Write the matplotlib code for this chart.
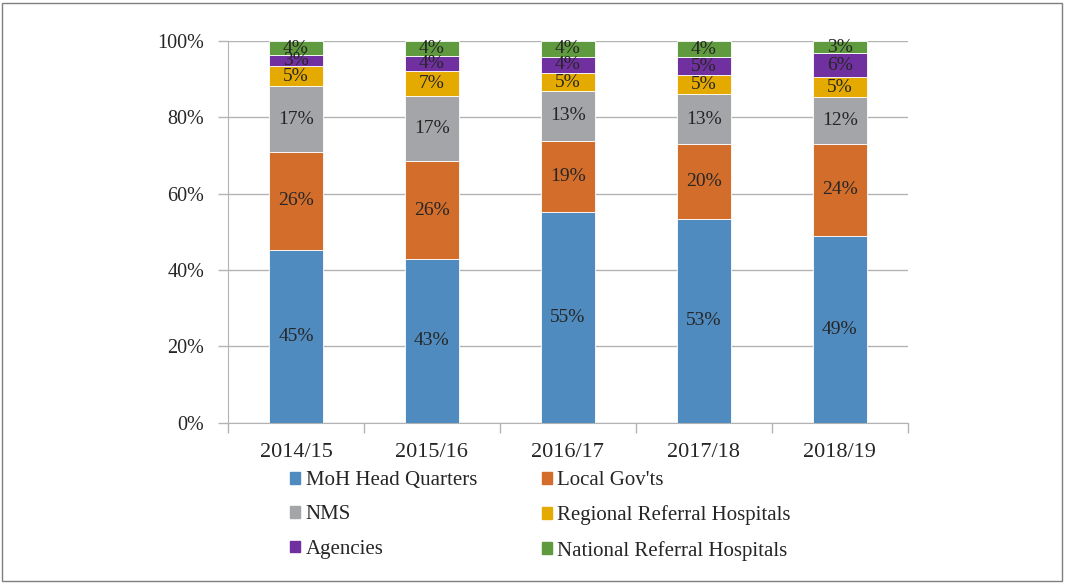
import matplotlib.pyplot as plt
import numpy as np
from matplotlib.patches import Patch, Rectangle
from matplotlib.ticker import FuncFormatter

plt.rcParams["font.family"] = ["Liberation Serif", "DejaVu Serif"]

years = ["2014/15", "2015/16", "2016/17", "2017/18", "2018/19"]
series = [
    "MoH Head Quarters",
    "Local Gov'ts",
    "NMS",
    "Regional Referral Hospitals",
    "Agencies",
    "National Referral Hospitals",
]
moh_hq = [45.2, 42.9, 55.1, 53.3, 48.9]
local_govts = [25.8, 25.6, 18.8, 19.7, 24.2]
nms = [17.1, 17.2, 12.9, 13.1, 12.1]
regional_rrh = [5.4, 6.55, 4.9, 5.0, 5.3]
agencies = [2.7, 3.85, 4.2, 4.6, 6.3]
national_nrh = [3.8, 3.9, 4.1, 4.3, 3.2]

colors = ["#4F8BBF", "#D36D2B", "#A4A5A8", "#E5AA00", "#7030A0", "#5F9B3E"]
values = [moh_hq, local_govts, nms, regional_rrh, agencies, national_nrh]

fig = plt.figure(figsize=(10.65, 5.84), dpi=100)
ax = fig.add_axes([0.2141, 0.2765, 0.6382, 0.6533])

x = np.arange(len(years))
bottom = np.zeros(len(years))
for vals, col in zip(values, colors):
    vals = np.array(vals)
    ax.bar(x, vals, 0.4, bottom=bottom, color=col, edgecolor="white", linewidth=0.6, zorder=3)
    for xi, b, v in zip(x, bottom, vals):
        ax.text(xi, b + v / 2, f"{round(v):d}%", ha="center", va="center",
                fontsize=14, color="#262626", zorder=4)
    bottom += vals

ax.set_xlim(-0.5, len(years) - 0.5)
ax.set_ylim(0, 100)
ax.set_yticks(np.arange(0, 101, 20))
ax.yaxis.set_major_formatter(FuncFormatter(lambda v, p: f"{int(v)}%"))
ax.yaxis.grid(True, color="#B3B3B3", linewidth=1)
ax.set_axisbelow(True)

ax.set_xticks(x)
ax.set_xticklabels(years)
ax.set_xticks(np.arange(-0.5, len(years), 1), minor=True)
ax.tick_params(axis="x", which="major", length=0, pad=15, labelsize=16, labelcolor="#262626")
ax.tick_params(axis="x", which="minor", length=7, color="#B3B3B3", width=1)
ax.tick_params(axis="y", length=7, color="#B3B3B3", width=1, pad=10, labelsize=14.5, labelcolor="#262626")

for s in ["top", "right"]:
    ax.spines[s].set_visible(False)
ax.spines["left"].set_color("#B3B3B3")
ax.spines["bottom"].set_color("#B3B3B3")

handles = [Patch(color=c, label=l) for c, l in zip(colors, series)]
order = [0, 2, 4, 1, 3, 5]
fig.legend([handles[i] for i in order], [series[i] for i in order],
           loc="upper left", bbox_to_anchor=(290 / 1065, 1 - 471 / 584),
           ncol=2, frameon=False, fontsize=15, borderpad=0, borderaxespad=0,
           handlelength=0.5, handleheight=0.5, handletextpad=0.25,
           columnspacing=3.1, labelspacing=0.74, labelcolor="#262626")

fig.patches.append(Rectangle((2 / 1065, 3 / 584), 1060 / 1065, 578 / 584,
                             transform=fig.transFigure, fill=False,
                             edgecolor="#7F7F7F", linewidth=1))

fig.savefig("out.png", dpi=100)
